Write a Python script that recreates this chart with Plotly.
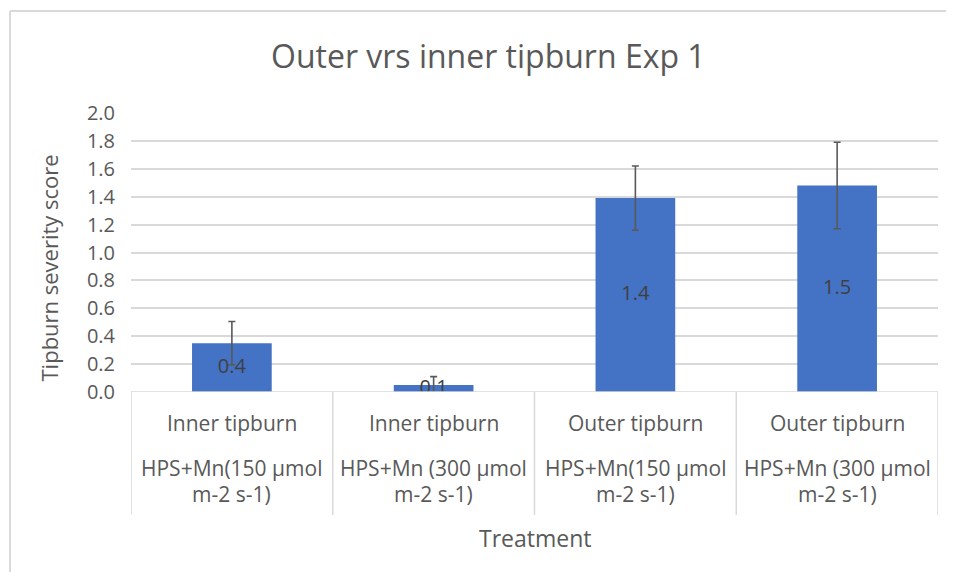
import plotly.graph_objects as go

group_labels = ["Inner tipburn", "Inner tipburn", "Outer tipburn", "Outer tipburn"]
treatment_lines1 = ["HPS+Mn(150 µmol", "HPS+Mn (300 µmol", "HPS+Mn(150 µmol", "HPS+Mn (300 µmol"]
treatment_lines2 = ["m-2 s-1)", "m-2 s-1)", "m-2 s-1)", "m-2 s-1)"]
values = [0.35, 0.05, 1.39, 1.48]
errors = [0.155, 0.06, 0.23, 0.31]
value_labels = ["0.4", "0.1", "1.4", "1.5"]

FONT = "Open Sans"
TXT = "#595959"
GRID = "#D9D9D9"
xs = list(range(len(values)))
PW, PH = 807, 279  # plot area size in px

fig = go.Figure()
fig.add_trace(go.Bar(
    x=xs, y=values, width=0.395, marker=dict(color="#4472C4", line=dict(width=0)),
    error_y=dict(type="data", array=errors, visible=True, color="#595959", thickness=1.6, width=3.5),
    hoverinfo="skip", showlegend=False,
))
fig.add_trace(go.Scatter(
    x=xs, y=[v / 2 for v in values], mode="text", text=value_labels,
    textfont=dict(family=FONT, size=20, color="#404040"), hoverinfo="skip", showlegend=False,
))

shapes = []
for i in range(len(values) + 1):
    shapes.append(dict(type="line", xref="x", yref="paper", x0=i - 0.5, x1=i - 0.5, y0=0, y1=-123 / PH,
                       line=dict(color=GRID, width=1.5)))
shapes.append(dict(type="line", xref="paper", yref="y", x0=0, x1=1, y0=0, y1=0, line=dict(color=GRID, width=1.5)))
# chart-area frame: top and left edges (right/bottom lie outside the picture)
shapes.append(dict(type="line", xref="paper", yref="paper", x0=-121 / PW, x1=1 + 16 / PW,
                   y0=1 + 102 / PH, y1=1 + 102 / PH, line=dict(color=GRID, width=2)))
shapes.append(dict(type="line", xref="paper", yref="paper", x0=-121 / PW, x1=-121 / PW,
                   y0=-180 / PH, y1=1 + 102 / PH, line=dict(color=GRID, width=2)))

annotations = []
for i in xs:
    annotations.append(dict(x=i, y=0, xref="x", yref="paper", text=group_labels[i], showarrow=False,
                            yanchor="middle", yshift=-31, font=dict(family=FONT, size=21, color=TXT)))
    annotations.append(dict(x=i, y=0, xref="x", yref="paper", text=treatment_lines1[i], showarrow=False,
                            yanchor="middle", yshift=-76, font=dict(family=FONT, size=21, color=TXT)))
    annotations.append(dict(x=i, y=0, xref="x", yref="paper", text=treatment_lines2[i], showarrow=False,
                            yanchor="middle", yshift=-102, font=dict(family=FONT, size=21, color=TXT)))
annotations.append(dict(x=0.5, y=0, xref="paper", yref="paper", text="Treatment", showarrow=False,
                        yanchor="middle", yshift=-146, font=dict(family=FONT, size=23, color=TXT)))
annotations.append(dict(x=0, y=0.5, xref="paper", yref="paper", text="Tipburn severity score", showarrow=False,
                        textangle=-90, xanchor="center", yanchor="middle", xshift=-83, yshift=-16,
                        font=dict(family=FONT, size=22, color=TXT)))
annotations.append(dict(x=0.5, y=1, xref="paper", yref="paper", text="Outer vrs inner tipburn Exp 1",
                        showarrow=False, yanchor="middle", yshift=58, xshift=-46,
                        font=dict(family=FONT, size=32, color=TXT)))

# page body adds an 8px margin, so the figure is sized/offset to compensate
fig.update_layout(
    width=946, height=564,
    margin=dict(l=123, r=16, t=105, b=180),
    paper_bgcolor="white", plot_bgcolor="white",
    xaxis=dict(range=[-0.5, 3.5], showticklabels=False, showgrid=False, zeroline=False, showline=False,
               fixedrange=True),
    yaxis=dict(range=[0, 2.0], dtick=0.2, tick0=0, tickformat=".1f", showgrid=True, gridcolor=GRID,
               gridwidth=1.5, zeroline=False, showline=False, ticks="", ticklabelstandoff=15,
               tickfont=dict(family=FONT, size=20, color=TXT), fixedrange=True),
    shapes=shapes, annotations=annotations,
)

fig.write_html("out.html")
